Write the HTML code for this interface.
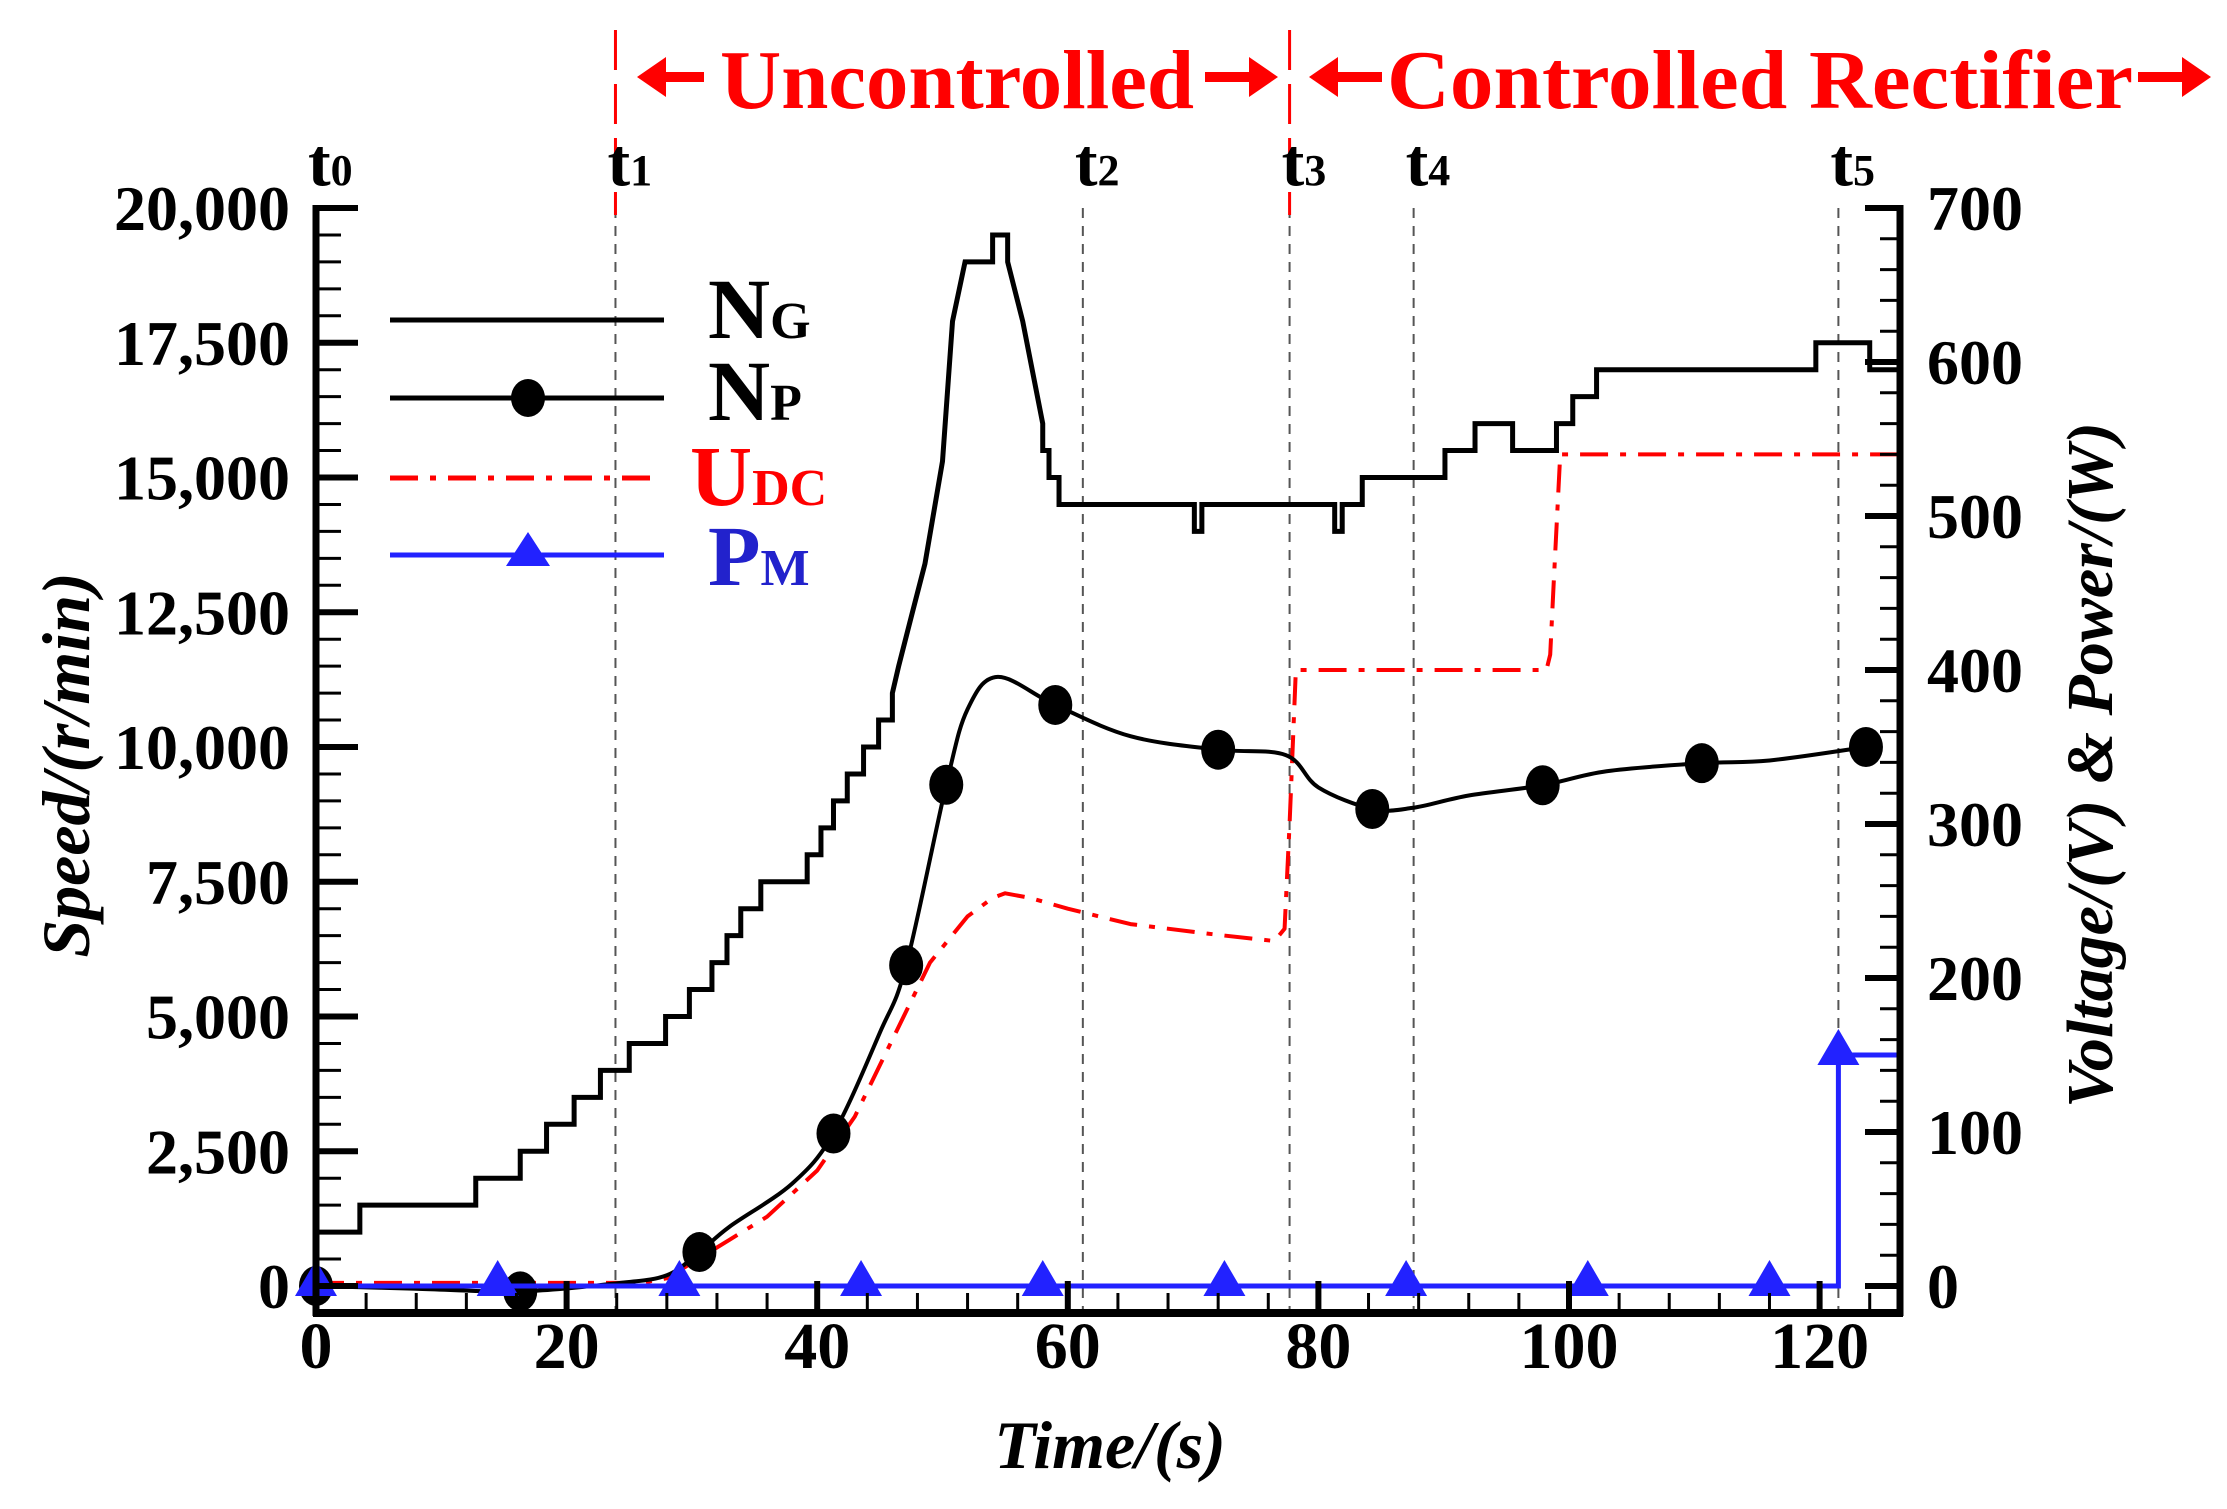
<!DOCTYPE html>
<html><head><meta charset="utf-8"><style>
html,body{margin:0;padding:0;background:#fff;}
svg{display:block;font-family:"Liberation Serif",serif;font-weight:bold;}
</style></head><body>
<svg id="chart" width="2227" height="1509" viewBox="0 0 2227 1509" xmlns="http://www.w3.org/2000/svg">
<g id="grid"></g>
<g id="series"></g>
<g id="axes"></g>
<g id="labels">
  <g fill="#f00">
    <polygon points="637,77 666,57 666,72 704,72 704,82 666,82 666,97"/>
    <polygon points="1278,77 1249,57 1249,72 1205,72 1205,82 1249,82 1249,97"/>
    <polygon points="1309,77 1338,57 1338,72 1382,72 1382,82 1338,82 1338,97"/>
    <polygon points="2211,77 2182,57 2182,72 2138,72 2138,82 2182,82 2182,97"/>
  </g>
  <text x="720" y="108" font-size="84" fill="#f00" textLength="474" lengthAdjust="spacingAndGlyphs">Uncontrolled</text>
  <text x="1387" y="108" font-size="84" fill="#f00" textLength="746" lengthAdjust="spacingAndGlyphs">Controlled Rectifier</text>
  <text x="67" y="765" font-size="68" font-style="italic" text-anchor="middle" transform="rotate(-90 67 765)" dy="22">Speed/(r/min)</text>
  <text x="2090" y="765" font-size="66" font-style="italic" text-anchor="middle" transform="rotate(-90 2090 765)" dy="22">Voltage/(V) &amp; Power/(W)</text>
  <text x="1110" y="1468" font-size="68" font-style="italic" text-anchor="middle">Time/(s)</text>
  <g>
    <line x1="390" y1="320" x2="664" y2="320" stroke="#000" stroke-width="5"/>
    <text x="708" y="338" font-size="86">N<tspan font-size="52">G</tspan></text>
    <line x1="390" y1="398" x2="664" y2="398" stroke="#000" stroke-width="5"/>
    <ellipse cx="528" cy="398" rx="17" ry="19" fill="#000"/>
    <text x="708" y="420" font-size="86">N<tspan font-size="52">P</tspan></text>
    <line x1="390" y1="478" x2="660" y2="478" stroke="#f00" stroke-width="5" stroke-dasharray="28 12 6 12"/>
    <text x="690" y="505" font-size="86" fill="#f00">U<tspan font-size="52">DC</tspan></text>
    <line x1="390" y1="555" x2="664" y2="555" stroke="#22f" stroke-width="5"/>
    <polygon points="528,532 506,566 550,566" fill="#22f"/>
    <text x="708" y="585" font-size="86" fill="#22c">P<tspan font-size="52">M</tspan></text>
  </g>
</g>
</svg>
<script>
// ---- data ----
const ngTimes = [0,3.5,3.5,12.75,12.75,16.3,16.3,18.4,18.4,20.6,20.6,22.7,22.7,25.0,25.0,27.9,27.9,29.8,29.8,31.6,31.6,32.8,32.8,33.9,33.9,35.5,35.5,39.2,39.2,40.3,40.3,41.3,41.3,42.4,42.4,43.7,43.7,44.9,44.9,46.0,46.0,46.5,47.6,48.6,50.0,50.8,51.8,51.8,54.0,54.0,55.2,55.2,56.4,58.0,58.0,58.5,58.5,59.3,59.3,60.9,70.1,70.1,70.7,70.7,81.3,81.3,81.9,81.9,83.5,83.5,90.1,90.1,92.5,92.5,95.5,95.5,99.0,99.0,100.3,100.3,102.2,102.2,119.7,119.7,124.0,124.0,126.3];
const ngValues = [1000,1000,1500,1500,2000,2000,2500,2500,3000,3000,3500,3500,4000,4000,4500,4500,5000,5000,5500,5500,6000,6000,6500,6500,7000,7000,7500,7500,8000,8000,8500,8500,9000,9000,9500,9500,10000,10000,10500,10500,11000,11500,12500,13400,15300,17900,19000,19000,19000,19500,19500,19000,17900,16000,15500,15500,15000,15000,14500,14500,14500,14000,14000,14500,14500,14000,14000,14500,14500,15000,15000,15500,15500,16000,16000,15500,15500,16000,16000,16500,16500,17000,17000,17500,17500,17000,17000];
const npTimes = [0,8,16.3,24,28,30.6,33,38,41.3,45,47.1,50.3,52,54.4,59.0,65,72.0,77.4,80,84.3,87.5,92,97.9,103,110.6,116,123.7];
const npValues = [0,-50,-100,50,200,630,1100,1900,2830,4700,5950,9300,10700,11300,10780,10200,9950,9850,9250,8850,8870,9100,9290,9550,9700,9750,10000];
const npMarkerTimes = [0,16.3,30.6,41.3,47.1,50.3,59.0,72.0,84.3,97.9,110.6,123.7];
const udcTimes = [0,26,28,30.6,33,36,40,43,46,49,52,54,55,57,60,65,72,76.5,77.3,77.7,78.2,98.2,98.5,98.8,99.3,126.3];
const udcValues = [2,2,5,18,30,45,75,110,160,210,240,252,255,252,245,235,228,224,232,300,400,400,410,460,540,540];
const pmTimes = [0,121.5,121.5,126.3];
const pmValues = [0,0,150,150];
const pmMarkerTimes = [0,14.5,29,43.5,58,72.5,87,101.5,116];
const eventTimes = [0,23.9,61.2,77.7,87.6,121.5];
const eventLabels = ["0","1","2","3","4","5"];
const xTicks = [0,20,40,60,80,100,120];
const yLeftTicks = [0,2500,5000,7500,10000,12500,15000,17500,20000];
const yLeftTickLabels = ["0","2,500","5,000","7,500","10,000","12,500","15,000","17,500","20,000"];
const yRightTicks = [0,100,200,300,400,500,600,700];

// ---- scales ----
const X0=316, XS=12.53, Y0=1286, YTOP=208;
const X_LEFT=316, X_RIGHT=1900, Y_BOTTOM=1313;
function xs(t){return X0+t*XS;}
function ysL(v){return Y0-(v/20000)*(Y0-YTOP);}
function ysR(v){return Y0-(v/700)*(Y0-YTOP);}
const NS="http://www.w3.org/2000/svg";
function mk(tag,attrs,parent){const e=document.createElementNS(NS,tag);for(const k in attrs)e.setAttribute(k,attrs[k]);parent.appendChild(e);return e;}
function interp(ts,vs,t){for(let i=0;i<ts.length-1;i++){if(t>=ts[i]&&t<=ts[i+1]){const d=ts[i+1]-ts[i];return d?vs[i]+(vs[i+1]-vs[i])*(t-ts[i])/d:vs[i+1];}}return vs[vs.length-1];}
function smoothPath(px){let d="M"+px[0][0]+","+px[0][1];for(let i=0;i<px.length-1;i++){const p0=px[Math.max(0,i-1)],p1=px[i],p2=px[i+1],p3=px[Math.min(px.length-1,i+2)];const c1=[p1[0]+(p2[0]-p0[0])/6,p1[1]+(p2[1]-p0[1])/6],c2=[p2[0]-(p3[0]-p1[0])/6,p2[1]-(p3[1]-p1[1])/6];d+=" C"+c1[0]+","+c1[1]+" "+c2[0]+","+c2[1]+" "+p2[0]+","+p2[1];}return d;}

const grid=document.getElementById('grid'), series=document.getElementById('series'), axes=document.getElementById('axes'), labels=document.getElementById('labels');

// event lines
eventTimes.forEach((t,i)=>{
  if(i>0){
    const l=mk('line',{x1:xs(t),y1:YTOP,x2:xs(t),y2:Y_BOTTOM,stroke:'#555','stroke-width':2,'stroke-dasharray':'10 8'},grid);
    
    
  }
  const tx=mk('text',{x:xs(t)-8,y:185,'font-size':68},labels);
  
  
  tx.textContent='t';
  const sub=mk('tspan',{'font-size':44},tx); sub.textContent=eventLabels[i];
});
[23.9,77.7].forEach((t,i)=>{
  const l=mk('line',{x1:xs(t),y1:30,x2:xs(t),y2:215,stroke:'#f00','stroke-width':3,'stroke-dasharray':'40 14'},grid);
  
  
});

// NG
let d=ngTimes.map((t,i)=>(i?'L':'M')+xs(t)+','+ysL(ngValues[i])).join(' ');
let p=mk('path',{d:d,fill:'none',stroke:'#000','stroke-width':5,'stroke-linejoin':'miter'},series);


// UDC
d=udcTimes.map((t,i)=>(i?'L':'M')+xs(t)+','+ysR(udcValues[i])).join(' ');
p=mk('path',{d:d,fill:'none',stroke:'#f00','stroke-width':4,'stroke-dasharray':'28 12 6 12','stroke-linejoin':'round'},series);


// NP
d=smoothPath(npTimes.map((t,i)=>[xs(t),ysL(npValues[i])]));
p=mk('path',{d:d,fill:'none',stroke:'#000','stroke-width':4},series);


npMarkerTimes.forEach((t,i)=>{
  const c=mk('ellipse',{cx:xs(t),cy:ysL(interp(npTimes,npValues,t)),rx:17,ry:20,fill:'#000'},series);
  
  
});
// PM
d=pmTimes.map((t,i)=>(i?'L':'M')+xs(t)+','+ysR(pmValues[i])).join(' ');
p=mk('path',{d:d,fill:'none',stroke:'#22f','stroke-width':5},series);


pmMarkerTimes.concat([121.5]).forEach((t,i)=>{
  const x=xs(t), y=ysR(i<pmMarkerTimes.length?interp(pmTimes.slice(0,2),pmValues.slice(0,2),t):150);
  const tr=mk('polygon',{points:(x)+','+(y-26)+' '+(x-21)+','+(y+10)+' '+(x+21)+','+(y+10),fill:'#22f'},series);
  
  
});

// axes frame
let a=mk('line',{x1:X_LEFT,y1:YTOP-3,x2:X_LEFT,y2:Y_BOTTOM+3,stroke:'#000','stroke-width':7},axes);
 
a=mk('line',{x1:X_RIGHT,y1:YTOP-3,x2:X_RIGHT,y2:Y_BOTTOM+3,stroke:'#000','stroke-width':7},axes);
 
a=mk('line',{x1:X_LEFT-3,y1:Y_BOTTOM,x2:X_RIGHT+3,y2:Y_BOTTOM,stroke:'#000','stroke-width':8},axes);
 

// left ticks
for(let v=0; v<=20000; v+=500){
  const major=v%2500===0;
  mk('line',{x1:X_LEFT,y1:ysL(v),x2:X_LEFT+(major?42:25),y2:ysL(v),stroke:'#000','stroke-width':major?6:3},axes);
}
yLeftTicks.forEach((v,i)=>{
  const t=mk('text',{x:290,y:ysL(v)+22,'font-size':64,'text-anchor':'end'},axes);
  
  
  t.textContent=yLeftTickLabels[i];
});
// right ticks
for(let v=0; v<=700; v+=20){
  const major=v%100===0;
  mk('line',{x1:X_RIGHT,y1:ysR(v),x2:X_RIGHT-(major?35:20),y2:ysR(v),stroke:'#000','stroke-width':major?6:3},axes);
}
yRightTicks.forEach(v=>{
  const t=mk('text',{x:1927,y:ysR(v)+22,'font-size':64},axes);
  
  
  t.textContent=String(v);
});
// x ticks
for(let v=0; v<=124; v+=4){
  const major=v%20===0;
  mk('line',{x1:xs(v),y1:Y_BOTTOM,x2:xs(v),y2:Y_BOTTOM-(major?32:20),stroke:'#000','stroke-width':major?6:3},axes);
}
xTicks.forEach(v=>{
  const t=mk('text',{x:xs(v),y:1368,'font-size':66,'text-anchor':'middle'},axes);
  
  
  t.textContent=String(v);
});
</script>
</body></html>
